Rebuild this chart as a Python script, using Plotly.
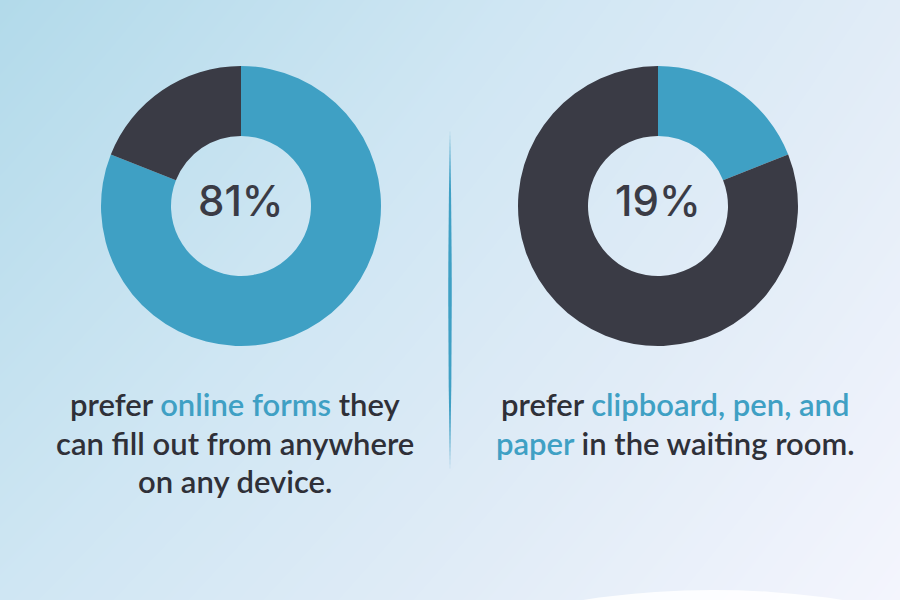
import plotly.graph_objects as go

# donut values (share of respondents)
labels = ["Online forms", "Clipboard, pen, and paper"]
left_values = [81, 19]
right_values = [19, 81]
center_labels = ["81%", "19%"]

# caption lines under each donut
left_lines = [
    "prefer <span style='color:#3fa0c4'>online forms</span> they",
    "can fill out from anywhere",
    "on any device.",
]
right_lines = [
    "prefer <span style='color:#3fa0c4'>clipboard, pen, and</span>",
    "<span style='color:#3fa0c4'>paper</span> in the waiting room.",
]

BLUE = "#3fa0c4"
DARK = "#3a3b45"
TEXT = "#2f3038"

fig = go.Figure()

# soft diagonal background gradient
fig.add_trace(go.Heatmap(
    x=[0, 900], y=[0, 600],
    z=[[0.0, 0.7], [0.4, 1.0]],
    colorscale=[[0, "#b2daea"], [0.4, "#cfe6f3"], [0.7, "#e1ecf7"], [1, "#f4f5fd"]],
    zsmooth="best", showscale=False, hoverinfo="skip",
))

pie_style = dict(
    hole=0.5, sort=False, direction="clockwise", rotation=0,
    textinfo="none", hoverinfo="skip", showlegend=False,
    marker=dict(colors=[BLUE, DARK], line=dict(width=0)),
)
fig.add_trace(go.Pie(labels=labels, values=left_values,
                     domain=dict(x=[101/900, 381/900], y=[1-346/600, 1-66/600]), **pie_style))
fig.add_trace(go.Pie(labels=labels, values=right_values,
                     domain=dict(x=[518/900, 798/900], y=[1-346/600, 1-66/600]), **pie_style))

# centre percentages
for cx, txt in zip([241, 658], center_labels):
    fig.add_annotation(x=cx, y=200, xref="x", yref="y", text=txt, showarrow=False,
                       font=dict(family="Inter", size=42, color=DARK, weight=500))

# captions
for cx, lines in [(235, left_lines), (675, right_lines)]:
    for i, line in enumerate(lines):
        fig.add_annotation(x=cx, y=404 + i * 38.5, xref="x", yref="y", text=line,
                           showarrow=False, yanchor="middle",
                           font=dict(family="Lato", size=31, color=TEXT, weight=600))

# tapered divider
fig.add_shape(type="path", xref="x", yref="y",
              path="M 450 130 Q 453.5 300 450 470 Q 446.5 300 450 130 Z",
              fillcolor=BLUE, line=dict(width=0))

# white swoosh at the bottom
fig.add_shape(type="circle", xref="x", yref="y", x0=415, x1=1011, y0=590, y1=790,
              fillcolor="white", opacity=0.85, line=dict(width=0))

fig.update_xaxes(range=[0, 900], visible=False, fixedrange=True)
fig.update_yaxes(range=[600, 0], visible=False, fixedrange=True)
fig.update_layout(width=900, height=600, margin=dict(l=0, r=0, t=0, b=0),
                  paper_bgcolor="#d6e9f4", plot_bgcolor="#d6e9f4")

fig.write_html("out.html", config={"displayModeBar": False},
               post_script="document.body.style.margin='0';document.body.style.overflow='hidden';")
